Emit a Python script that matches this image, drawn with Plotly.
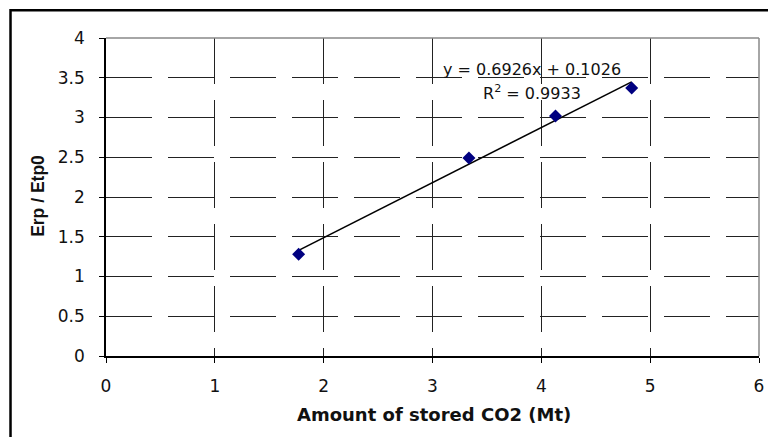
import plotly.graph_objects as go

# Data
stored_co2 = [1.77, 3.335, 4.13, 4.83]
erp_etp0 = [1.28, 2.49, 3.02, 3.37]
trend_slope = 0.6926
trend_intercept = 0.1026
r_squared = 0.9933
x_ticks = [0, 1, 2, 3, 4, 5, 6]
y_ticks = [0, 0.5, 1, 1.5, 2, 2.5, 3, 3.5, 4]
y_tick_labels = ["0", "0.5", "1", "1.5", "2", "2.5", "3", "3.5", "4"]
x_title = "Amount of stored CO2 (Mt)"
y_title = "Erp / Etp0"

# page has an 8px body margin; work in window pixels and convert
OFF = 8
W, H = 776 - OFF, 437 - OFF
# plot area in window pixels
PX0, PX1, PY0, PY1 = 105.5, 762, 38.3, 355.7
L = PX0 - OFF
R = 776 - PX1
T = PY0 - OFF
B = 437 - PY1
pw = PX1 - PX0
ph = PY1 - PY0

def px(x):
    return (x - PX0) / pw

def py(y):
    return (PY1 - y) / ph

fig = go.Figure()

tx = [min(stored_co2), max(stored_co2)]
ty = [trend_slope * v + trend_intercept for v in tx]
fig.add_trace(go.Scatter(x=tx, y=ty, mode="lines",
                         line=dict(color="black", width=1.6),
                         hoverinfo="skip", showlegend=False))
fig.add_trace(go.Scatter(x=stored_co2, y=erp_etp0, mode="markers",
                         marker=dict(symbol="diamond", size=10, color="#000080",
                                     line=dict(width=0)),
                         showlegend=False))

fig.update_layout(
    width=W, height=H,
    margin=dict(l=L, r=R, t=T, b=B, pad=0),
    paper_bgcolor="white", plot_bgcolor="white",
    font=dict(family="DejaVu Sans, sans-serif", color="#111", size=14),
    showlegend=False,
)

tick_font = dict(family="DejaVu Sans, sans-serif", size=17, color="#111")
fig.update_xaxes(range=[0, 6], tickvals=x_ticks, ticktext=[str(v) for v in x_ticks],
                 showgrid=True, gridcolor="#222", gridwidth=1, griddash="46px,16px",
                 showline=True, linecolor="black", linewidth=1.5,
                 ticks="outside", ticklen=5, tickcolor="black", tickwidth=1,
                 ticklabelstandoff=9, zeroline=False, mirror=False,
                 tickfont=tick_font)
fig.update_yaxes(range=[0, 4], tickvals=y_ticks, ticktext=y_tick_labels,
                 showgrid=True, gridcolor="#222", gridwidth=1, griddash="46px,16px",
                 showline=True, linecolor="black", linewidth=1.5,
                 ticks="outside", ticklen=5, tickcolor="black", tickwidth=1,
                 ticklabelstandoff=11, zeroline=False, mirror=False,
                 tickfont=tick_font)

shapes = []
shapes.append(dict(type="line", xref="paper", yref="paper", x0=0, x1=1, y0=1, y1=1,
                   line=dict(color="#888", width=1.5)))
shapes.append(dict(type="line", xref="paper", yref="paper", x0=1, x1=1, y0=0, y1=1,
                   line=dict(color="#888", width=1.5)))
# outer chart frame (cropped at right and bottom)
shapes.append(dict(type="rect", xref="paper", yref="paper",
                   x0=px(9.5), x1=px(800), y0=py(470), y1=py(10.5),
                   line=dict(color="black", width=2.5), fillcolor="rgba(0,0,0,0)",
                   layer="above"))
fig.update_layout(shapes=shapes)

ann_font = dict(family="DejaVu Sans, sans-serif", size=16, color="#111")
fig.add_annotation(xref="paper", yref="paper", x=px(534), y=py(70),
                   text=f"y = {trend_slope}x + {trend_intercept}", showarrow=False,
                   font=ann_font, xanchor="center", yanchor="middle")
fig.add_annotation(xref="paper", yref="paper", x=px(534), y=py(93),
                   text=f"R<sup>2</sup> = {r_squared}", showarrow=False,
                   font=ann_font, xanchor="center", yanchor="middle")
fig.add_annotation(xref="paper", yref="paper", x=px(435), y=py(414),
                   text=f"<b>{x_title}</b>", showarrow=False,
                   font=dict(family="DejaVu Sans, sans-serif", size=18, color="#111"),
                   xanchor="center", yanchor="middle")
fig.add_annotation(xref="paper", yref="paper", x=px(37), y=py(196),
                   text=f"<b>{y_title}</b>", showarrow=False, textangle=-90,
                   font=dict(family="Liberation Sans, Arial, sans-serif", size=17.5, color="#111"),
                   xanchor="center", yanchor="middle")

fig.write_html("out.html")
